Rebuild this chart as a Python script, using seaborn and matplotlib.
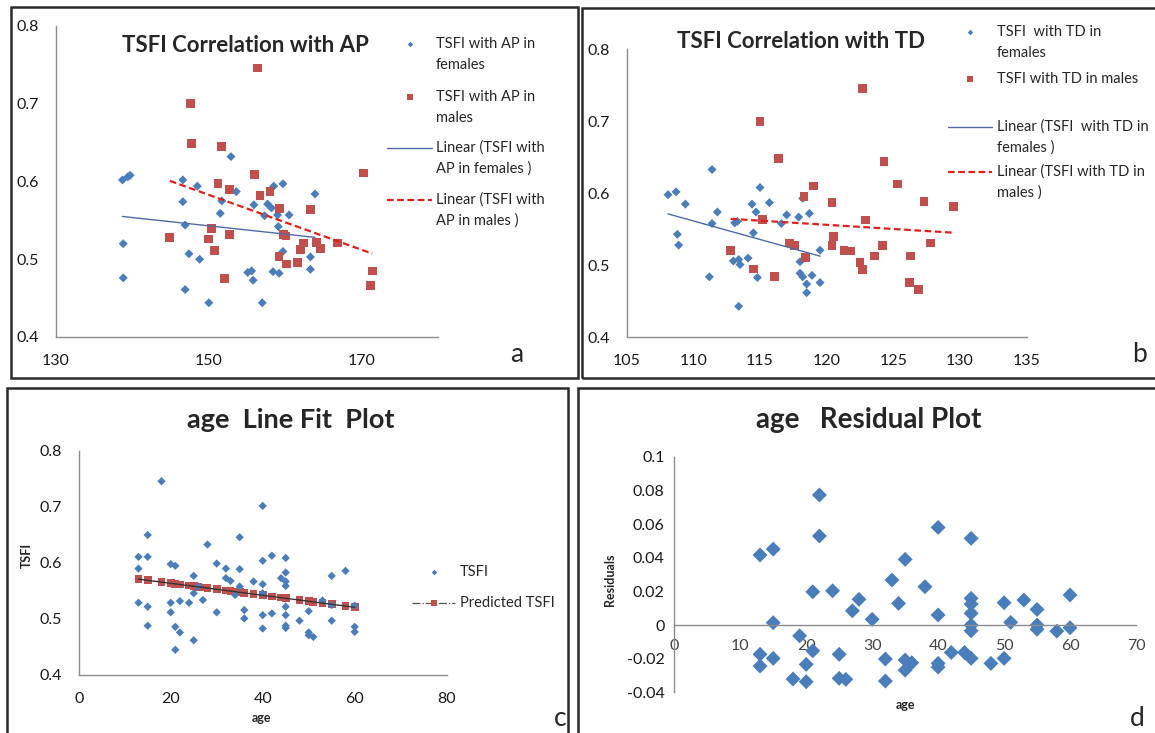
import numpy as np
import seaborn as sns
import matplotlib.pyplot as plt
from matplotlib.lines import Line2D
from matplotlib.patches import Rectangle

# ---- panel a: TSFI vs AP
ap_f = [138.7, 139.7, 139.4, 138.8, 138.8, 146.6, 146.6, 146.9, 147.4, 146.9, 148.5, 148.8,
        150.0, 151.5, 151.7, 152.9, 153.6, 155.1, 155.6, 155.8, 155.9, 157.0, 157.3, 157.7,
        158.2, 158.5, 159.7, 159.1, 159.0, 158.4, 159.2, 159.7, 160.5, 163.9, 163.3, 163.3]
tsfi_ap_f = [0.602, 0.608, 0.606, 0.520, 0.476, 0.602, 0.574, 0.544, 0.507, 0.461, 0.594, 0.500,
             0.444, 0.559, 0.575, 0.632, 0.587, 0.483, 0.485, 0.473, 0.570, 0.444, 0.556, 0.571,
             0.566, 0.594, 0.597, 0.542, 0.557, 0.484, 0.482, 0.510, 0.557, 0.584, 0.503, 0.487]
ap_m = [156.4, 147.6, 147.7, 151.7, 156.0, 151.2, 152.7, 156.7, 158.0, 159.3, 144.9, 150.4,
        150.0, 150.7, 152.7, 152.1, 159.2, 160.2, 159.8, 160.1, 161.6, 162.0, 162.4, 163.3,
        164.1, 164.6, 166.8, 170.3, 171.4, 171.2]
tsfi_ap_m = [0.746, 0.700, 0.649, 0.645, 0.609, 0.597, 0.590, 0.582, 0.587, 0.565, 0.528, 0.540,
             0.526, 0.511, 0.532, 0.475, 0.504, 0.494, 0.532, 0.530, 0.496, 0.513, 0.521, 0.564,
             0.522, 0.514, 0.521, 0.611, 0.485, 0.466]

# ---- panel b: TSFI vs TD
td_f = [108.1, 108.7, 109.4, 108.8, 108.9, 111.4, 111.4, 111.8, 111.2, 113.1, 113.3, 113.0,
        113.4, 113.5, 113.4, 114.1, 114.4, 114.7, 114.5, 114.8, 115.0, 115.7, 116.6, 117.0,
        117.9, 118.2, 118.0, 118.0, 118.2, 118.5, 118.5, 118.7, 118.9, 119.5, 119.5]
tsfi_td_f = [0.598, 0.602, 0.585, 0.543, 0.528, 0.633, 0.558, 0.574, 0.484, 0.559, 0.561, 0.506,
             0.508, 0.501, 0.443, 0.510, 0.585, 0.574, 0.545, 0.483, 0.608, 0.587, 0.558, 0.570,
             0.567, 0.593, 0.505, 0.489, 0.484, 0.474, 0.462, 0.572, 0.486, 0.521, 0.476]
td_m = [112.8, 115.0, 116.4, 115.2, 114.5, 116.1, 117.2, 117.6, 118.4, 118.3, 119.0, 120.4,
        120.5, 120.4, 121.3, 121.8, 122.7, 122.9, 122.5, 122.7, 124.3, 125.3, 127.3, 129.5,
        124.2, 123.6, 127.8, 126.3, 126.2, 126.9]
tsfi_td_m = [0.521, 0.700, 0.648, 0.564, 0.495, 0.484, 0.531, 0.528, 0.511, 0.596, 0.610, 0.587,
             0.540, 0.527, 0.521, 0.520, 0.746, 0.563, 0.504, 0.494, 0.644, 0.613, 0.589, 0.582,
             0.527, 0.513, 0.531, 0.513, 0.476, 0.466]

# ---- panel c: TSFI vs age
age = [18, 15, 13, 15, 13, 13, 15, 15, 20, 21, 20, 20, 22, 21, 22, 21, 24, 25, 25, 25, 26, 27,
       28, 30, 30, 32, 32, 33, 34, 35, 35, 35, 36, 36, 38, 40, 40, 40, 40, 40, 40, 42, 42, 44,
       45, 45, 45, 45, 45, 45, 45, 45, 48, 50, 50, 50, 51, 53, 55, 55, 55, 58, 60, 60, 60]
tsfi = [0.746, 0.650, 0.611, 0.611, 0.590, 0.529, 0.522, 0.488, 0.598, 0.595, 0.529, 0.512,
        0.532, 0.486, 0.476, 0.445, 0.529, 0.577, 0.546, 0.462, 0.558, 0.534, 0.633, 0.599,
        0.512, 0.590, 0.573, 0.568, 0.543, 0.646, 0.589, 0.558, 0.516, 0.501, 0.567, 0.702,
        0.604, 0.562, 0.546, 0.507, 0.483, 0.613, 0.510, 0.573, 0.609, 0.583, 0.567, 0.559,
        0.522, 0.507, 0.488, 0.484, 0.497, 0.514, 0.476, 0.471, 0.468, 0.533, 0.577, 0.525,
        0.497, 0.586, 0.524, 0.486, 0.477]

# ---- panel d: residuals vs age
res_age = [13, 15, 15, 13, 13, 15, 18, 19, 20, 20, 21, 21, 22, 22, 24, 25, 25, 26, 27, 28,
           30, 32, 32, 33, 34, 35, 35, 36, 35, 38, 40, 40, 40, 40, 42, 44, 45, 45, 45, 45,
           45, 45, 45, 48, 50, 50, 51, 53, 55, 55, 55, 58, 60, 60]
residuals = [0.0417, 0.0452, 0.0014, -0.0174, -0.0244, -0.0198, -0.0321, -0.0064, -0.0337,
             -0.0234, -0.0153, 0.0198, 0.0774, 0.0530, 0.0204, -0.0174, -0.0317, -0.0323,
             0.0085, 0.0153, 0.0034, -0.0202, -0.0333, 0.0268, 0.0129, 0.0391, -0.0208,
             -0.0224, -0.0268, 0.0228, 0.0581, 0.0060, -0.0228, -0.0250, -0.0163, -0.0163,
             -0.0198, 0.0516, 0.0159, 0.0125, 0.0070, 0.0000, -0.0034, -0.0228, -0.0198,
             0.0133, 0.0016, 0.0149, 0.0093, 0.0000, -0.0025, -0.0036, 0.0179, -0.0016]

tick_res = [-0.04, -0.02, 0, 0.02, 0.04, 0.06, 0.08, 0.1]
tick_res_lbl = ['-0.04', '-0.02', '0', '0.02', '0.04', '0.06', '0.08', '0.1']

BLUE = '#4A7EBB'
RED = '#C0504D'
TREND_BLUE = '#4D6BA6'
TREND_RED = '#E0201B'
GRAY = '#8C8C8C'

sns.set_style('white')
plt.rcParams['font.family'] = ['Lato', 'DejaVu Sans']

W, H = 1155, 733
fig = plt.figure(figsize=(W / 100, H / 100), dpi=100)


def box(x0, y0, x1, y1):
    # pixel box (top-left origin) -> figure fraction rect
    return [x0 / W, 1 - y1 / H, (x1 - x0) / W, (y1 - y0) / H]


def ftext(x, y, s, **kw):
    kw.setdefault('ha', 'center')
    kw.setdefault('va', 'center')
    return fig.text(x / W, 1 - y / H, s, **kw)


def style(ax, pad=8):
    sns.despine(ax=ax)
    for s in ['left', 'bottom']:
        ax.spines[s].set_color(GRAY)
        ax.spines[s].set_linewidth(1)
    ax.tick_params(direction='out', length=4, width=1, color=GRAY,
                   labelsize=11.5, labelcolor='#1a1a1a', pad=pad)
    ax.set_facecolor('none')


def legend(x0, x1, xt, entries):
    # Excel style legend: handle sits on the first text line of each entry
    for kind, y, lines in entries:
        xc = (x0 + x1) / 2
        if kind == 'diamond':
            art = Line2D([xc / W], [1 - y / H], marker='D', ls='none', color=BLUE, ms=2.8, mew=0)
        elif kind == 'square':
            art = Line2D([xc / W], [1 - y / H], marker='s', ls='none', color=RED, ms=4.6, mew=0)
        elif kind == 'trend_f':
            art = Line2D([x0 / W, x1 / W], [1 - y / H] * 2, color=TREND_BLUE, lw=1)
        elif kind == 'trend_m':
            art = Line2D([x0 / W, x1 / W], [1 - y / H] * 2, color=TREND_RED, lw=1.6, dashes=dash)
        else:
            art = Line2D([x0 / W, xc / W, x1 / W], [1 - y / H] * 3, color='#555555', ls='-.',
                         lw=0.9, marker='s', markevery=[1], ms=5, mfc=RED, mec=RED, mew=0)
        art.set_transform(fig.transFigure)
        fig.add_artist(art)
        for i, line in enumerate(lines):
            ftext(xt, y + i * 21, line, ha='left', fontsize=10.5)


# panel frames
for x0, y0, x1, y1 in [(11, 7, 578, 378), (582, 8, 1160, 378), (7, 388, 568, 740), (578, 388, 1160, 740)]:
    r = Rectangle((x0 / W, 1 - y1 / H), (x1 - x0) / W, (y1 - y0) / H, transform=fig.transFigure,
                  fill=False, lw=1.8, ec='#2a2a2a')
    fig.add_artist(r)

dash = (3, 1.6)

# ---------------- panel a
ax = fig.add_axes(box(56, 26, 438, 337))
sns.scatterplot(x=ap_f, y=tsfi_ap_f, marker='D', s=21, color=BLUE, edgecolor='none', ax=ax)
sns.scatterplot(x=ap_m, y=tsfi_ap_m, marker='s', s=40, color=RED, edgecolor='none', ax=ax)
sns.regplot(x=ap_f, y=tsfi_ap_f, scatter=False, ci=None, ax=ax,
            line_kws=dict(color=TREND_BLUE, lw=1))
sns.regplot(x=ap_m, y=tsfi_ap_m, scatter=False, ci=None, ax=ax,
            line_kws=dict(color=TREND_RED, lw=1.6, dashes=dash))
ax.set_xlim(130, 180)
ax.set_ylim(0.4, 0.8)
ax.set_xticks([130, 150, 170], ['130', '150', '170'])
ax.set_yticks([0.4, 0.5, 0.6, 0.7, 0.8], ['0.4', '0.5', '0.6', '0.7', '0.8'])
style(ax)
legend(387, 432, 436, [('diamond', 44, ['TSFI with AP in', 'females']),
                       ('square', 97, ['TSFI with AP in', 'males']),
                       ('trend_f', 148, ['Linear (TSFI with', 'AP in females )']),
                       ('trend_m', 200, ['Linear (TSFI with', 'AP in males )'])])
ftext(245, 45, 'TSFI Correlation with AP', fontsize=16, fontweight='bold')
ftext(517, 355, 'a', fontsize=19)

# ---------------- panel b
ax = fig.add_axes(box(626.7, 49.3, 1026.7, 337.3))
sns.scatterplot(x=td_f, y=tsfi_td_f, marker='D', s=21, color=BLUE, edgecolor='none', ax=ax)
sns.scatterplot(x=td_m, y=tsfi_td_m, marker='s', s=40, color=RED, edgecolor='none', ax=ax)
sns.regplot(x=td_f, y=tsfi_td_f, scatter=False, ci=None, ax=ax,
            line_kws=dict(color=TREND_BLUE, lw=1))
sns.regplot(x=td_m, y=tsfi_td_m, scatter=False, ci=None, ax=ax,
            line_kws=dict(color=TREND_RED, lw=1.6, dashes=dash))
ax.set_xlim(105, 135)
ax.set_ylim(0.4, 0.8)
ax.set_xticks([105, 110, 115, 120, 125, 130, 135], ['105', '110', '115', '120', '125', '130', '135'])
ax.set_yticks([0.4, 0.5, 0.6, 0.7, 0.8], ['0.4', '0.5', '0.6', '0.7', '0.8'])
style(ax)
legend(948, 992, 997, [('diamond', 32, ['TSFI  with TD in', 'females']),
                       ('square', 79, ['TSFI with TD in males']),
                       ('trend_f', 127, ['Linear (TSFI  with TD in', 'females )']),
                       ('trend_m', 172, ['Linear (TSFI with TD in', 'males )'])])
ftext(801, 42, 'TSFI Correlation with TD', fontsize=16, fontweight='bold')
ftext(1140, 355, 'b', fontsize=19)

# ---------------- panel c
ax = fig.add_axes(box(78.7, 451, 446.7, 675))
coef = np.polyfit(age, tsfi, 1)
age_sorted = np.sort(age)
pred = np.polyval(coef, age_sorted)
sns.lineplot(x=age_sorted, y=pred, color='#333333', lw=1, ax=ax, estimator=None)
sns.scatterplot(x=age_sorted, y=pred, marker='s', s=30, color=RED, edgecolor='none', ax=ax)
sns.scatterplot(x=age, y=tsfi, marker='D', s=18, color=BLUE, edgecolor='none', ax=ax)
ax.set_xlim(0, 80)
ax.set_ylim(0.4, 0.8)
ax.set_xticks([0, 20, 40, 60, 80], ['0', '20', '40', '60', '80'])
ax.set_yticks([0.4, 0.5, 0.6, 0.7, 0.8], ['0.4', '0.5', '0.6', '0.7', '0.8'])
style(ax)
ax.set_xlabel('')
ax.set_ylabel('')
legend(412, 455, 460, [('diamond', 572, ['TSFI']),
                       ('predicted', 603, ['Predicted TSFI'])])
ftext(291, 420, 'age  Line Fit  Plot', fontsize=19.5, fontweight='bold')
ftext(27, 555, 'TSFI', rotation=90, fontsize=9, fontweight='bold')
ftext(262, 718, 'age', fontsize=9, fontweight='bold')
ftext(560, 718, 'c', fontsize=19)

# ---------------- panel d
ax = fig.add_axes(box(674.3, 457, 1136, 692.3))
sns.scatterplot(x=res_age, y=residuals, marker='D', s=58, color=BLUE, edgecolor='none', ax=ax)
ax.set_xlim(0, 70)
ax.set_ylim(-0.04, 0.1)
ax.set_xticks([0, 10, 20, 30, 40, 50, 60, 70], ['0', '10', '20', '30', '40', '50', '60', '70'])
ax.set_yticks(tick_res, tick_res_lbl)
style(ax, pad=3)
ax.spines['bottom'].set_position(('data', 0))
ax.tick_params(axis='x', labelcolor='#444444', pad=6)
ftext(869, 420, 'age   Residual Plot', fontsize=20, fontweight='bold')
ftext(610, 580, 'Residuals', rotation=90, fontsize=9, fontweight='bold')
ftext(905, 705, 'age', fontsize=9, fontweight='bold')
ftext(1137, 718, 'd', fontsize=19)

fig.savefig('out.png', dpi=100)
